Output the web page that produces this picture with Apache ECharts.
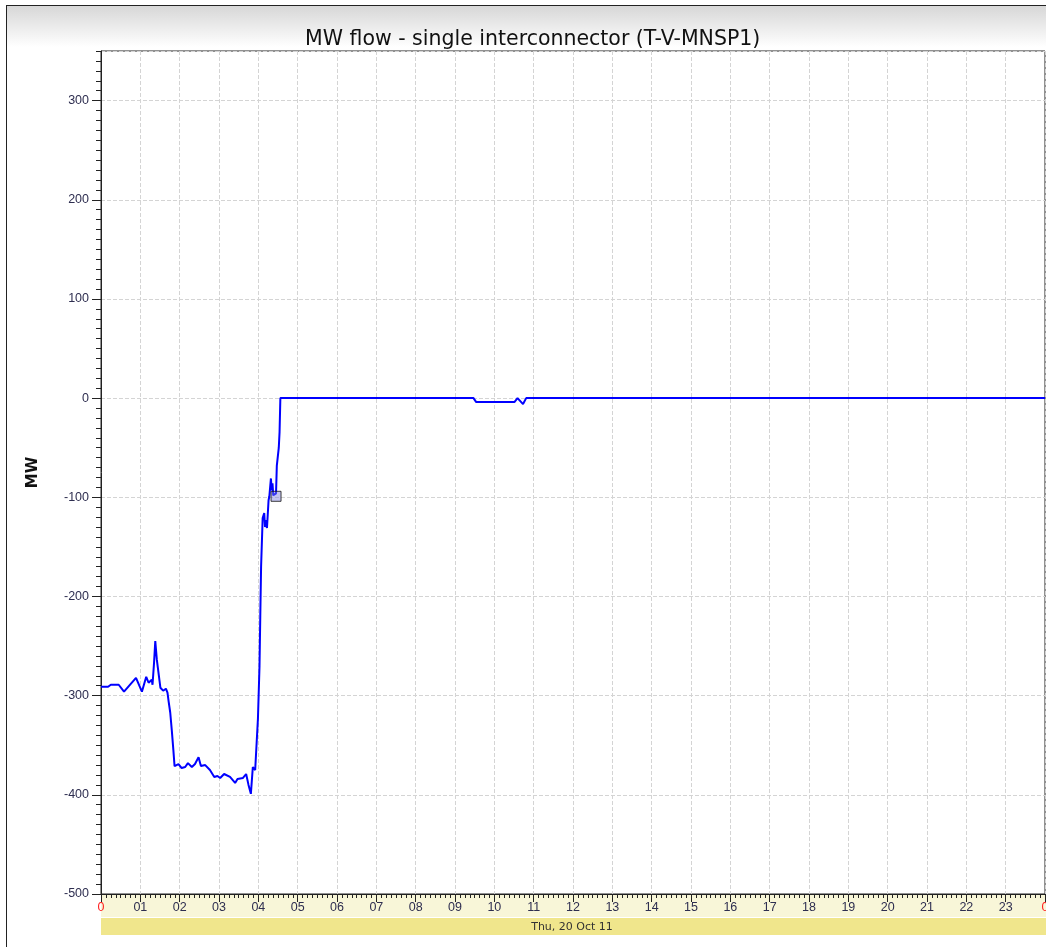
<!DOCTYPE html>
<html>
<head>
<meta charset="utf-8">
<script src="https://cdn.jsdelivr.net/npm/echarts@6/dist/echarts.min.js"></script>
<style>
html,body{margin:0;padding:0;background:#fff;}
#chart{width:1046px;height:947px;}
</style>
</head>
<body>
<div id="chart"></div>
<script>
// ---- data (hours of day, MW) ----
const hours = [0.00,0.18,0.25,0.45,0.585,0.89,1.04,1.15,1.21,1.29,1.31,1.35,1.38,1.42,1.51,1.58,1.65,1.69,1.72,1.76,1.80,1.84,1.87,1.91,1.97,2.05,2.14,2.21,2.31,2.39,2.48,2.54,2.65,2.77,2.88,2.96,3.03,3.13,3.28,3.41,3.47,3.61,3.69,3.75,3.81,3.86,3.92,3.96,3.99,4.03,4.05,4.07,4.11,4.15,4.17,4.20,4.22,4.26,4.28,4.32,4.34,4.36,4.38,4.45,4.47,4.52,4.54,4.56,9.47,9.54,10.51,10.59,10.73,10.81,24.0];
const mw    = [-291,-291,-289,-289,-296,-282,-296,-281,-287,-284,-289,-266,-245,-264,-292,-295,-293,-297,-306,-317,-335,-355,-371,-373,-369,-373,-372,-368,-372,-369,-362,-371,-370,-375,-382,-381,-383,-379,-382,-388,-384,-383,-379,-390,-399,-372,-375,-373,-323,-270,-219,-170,-121,-116,-130,-123,-131,-103,-99,-81,-93,-86,-98,-96,-68,-50,-34,0,0,-4,-4,0,-6,0,0];
const markerHour = [4.45];
const markerMW = [-99];
const xTickLabels = ['0','01','02','03','04','05','06','07','08','09','10','11','12','13','14','15','16','17','18','19','20','21','22','23','0'];
const dateLabel = 'Thu, 20 Oct 11';
const titleText = 'MW flow - single interconnector (T-V-MNSP1)';
const yName = 'MW';

const chart = echarts.init(document.getElementById('chart'), null, {renderer:'canvas'});
const lineData = hours.map((h,i)=>[h, mw[i]]);
const markData = markerHour.map((h,i)=>[h, markerMW[i]]);
const labelColor = '#2e2e50';
const gridL = 101, gridR = 1, gridT = 51, gridB = 53;

chart.setOption({
  animation:false,
  backgroundColor:'#ffffff',
  title:{
    text:titleText, left:300, top:24,
    textStyle:{fontFamily:'DejaVu Sans', fontSize:20.5, fontWeight:'normal', color:'#111'}
  },
  graphic:[
    {type:'rect', z:-10, shape:{x:6,y:5,width:1040,height:42},
     style:{fill:new echarts.graphic.LinearGradient(0,0,0,1,[{offset:0,color:'#d6d6d6'},{offset:1,color:'#ffffff'}])}},
    {type:'line', z:-5, shape:{x1:6,y1:5.5,x2:1046,y2:5.5}, style:{stroke:'#222',lineWidth:1}},
    {type:'line', z:-5, shape:{x1:6.5,y1:5,x2:6.5,y2:947}, style:{stroke:'#222',lineWidth:1}},
    {type:'rect', z:-8, shape:{x:gridL,y:895,width:1046-gridL,height:22}, style:{fill:'#f8f6d8'}},
    {type:'rect', z:-8, shape:{x:gridL,y:918,width:1046-gridL,height:17}, style:{fill:'#f0e68c'}},
    {type:'text', z:5, style:{text:dateLabel, x:572, y:927, align:'center', verticalAlign:'middle',
      fontFamily:'DejaVu Sans', fontSize:11, fill:'#333'}}
  ],
  grid:{left:gridL, right:gridR, top:gridT, bottom:gridB, outerBoundsMode:'none', containLabel:false,
        show:true, borderColor:'#222', borderWidth:1, backgroundColor:'transparent'},
  xAxis:{
    type:'value', min:0, max:24, interval:1,
    axisLine:{show:true, onZero:false, lineStyle:{color:'#222', width:1}},
    axisTick:{show:true, length:8, lineStyle:{color:'#222'}},
    minorTick:{show:true, splitNumber:8, length:4, lineStyle:{color:'#222'}},
    splitLine:{show:true, lineStyle:{color:'#d4d4d4', type:'dashed', width:1}},
    axisLabel:{
      margin:7, fontFamily:'Liberation Sans', fontSize:12.5, color:labelColor,
      showMinLabel:true, showMaxLabel:true,
      formatter:function(v){
        const i = Math.round(v);
        const t = xTickLabels[i];
        return (i===0||i===24) ? '{r|'+t+'}' : '{n|'+t+'}';
      },
      rich:{
        r:{color:'#ff2020', fontFamily:'Liberation Sans', fontSize:12.5},
        n:{color:labelColor, fontFamily:'Liberation Sans', fontSize:12.5}
      }
    }
  },
  yAxis:[
    {
      type:'value', min:-500, max:350, interval:100, position:'left',
      name:yName, nameLocation:'middle', nameGap:60, nameRotate:90,
      nameTextStyle:{fontFamily:'DejaVu Sans', fontSize:15, fontWeight:'bold', color:'#111'},
      axisLine:{show:true, onZero:false, lineStyle:{color:'#222', width:1}},
      axisTick:{show:true, length:9, lineStyle:{color:'#222'}},
      splitLine:{show:true, lineStyle:{color:'#d4d4d4', type:'dashed', width:1}},
      axisLabel:{margin:12, fontFamily:'Liberation Sans', fontSize:12.5, color:labelColor, showMaxLabel:false}
    },
    {
      type:'value', min:-500, max:350, interval:10, position:'left',
      axisLine:{show:false, onZero:false},
      axisTick:{show:true, length:5, lineStyle:{color:'#222'}},
      splitLine:{show:false},
      axisLabel:{show:false}
    }
  ],
  series:[
    {
      type:'line', data:lineData, xAxisIndex:0, yAxisIndex:0,
      showSymbol:false, symbol:'none',
      lineStyle:{color:'#0000ff', width:2}, z:3
    },
    {
      type:'scatter', data:markData, xAxisIndex:0, yAxisIndex:0,
      symbol:'rect', symbolSize:10,
      itemStyle:{color:'rgba(120,120,220,0.55)', borderColor:'#111', borderWidth:1}, z:4
    }
  ]
});
</script>
</body>
</html>
